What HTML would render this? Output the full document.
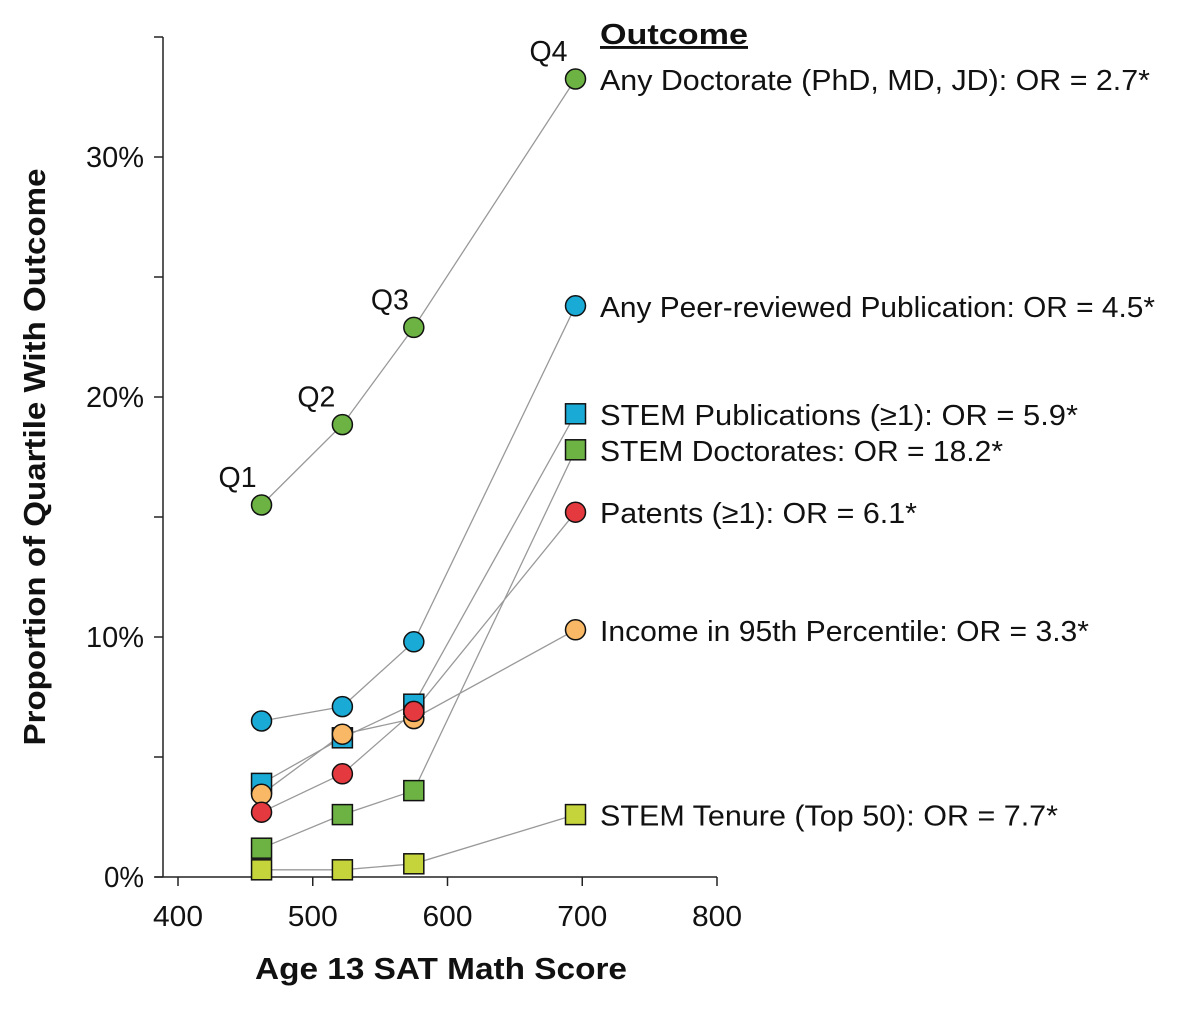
<!DOCTYPE html>
<html><head><meta charset="utf-8"><style>
body{margin:0;background:#fff;}
svg text{font-family:"Liberation Sans",Arial,sans-serif;fill:#111;}
</style></head><body>
<svg width="1178" height="1007" viewBox="0 0 1178 1007" xmlns="http://www.w3.org/2000/svg">
<g id="axes"></g><g id="lines"></g><g id="marks"></g><g id="labels"></g>
</svg>
<script>
const xValues=[462,522,575,695];
const quartileNames=["Q1","Q2","Q3","Q4"];
const xTicks=[400,500,600,700,800];
const yMajor=[0,10,20,30];
const yMinor=[5,15,25,35];
const doctorate=[15.5,18.85,22.9,33.25];
const publication=[6.5,7.1,9.8,23.8];
const stemPubs=[3.9,5.8,7.2,19.3];
const stemDoc=[1.2,2.6,3.6,17.8];
const patents=[2.7,4.3,6.9,15.2];
const income=[3.45,5.95,6.6,10.3];
const tenure=[0.3,0.3,0.55,2.6];
const seriesNames=["stem-doctorates","stem-tenure","stem-publications","income","patents","publication","doctorate"];
const seriesData=[stemDoc,tenure,stemPubs,income,patents,publication,doctorate];
const seriesShape=["sq","sq","sq","c","c","c","c"];
const seriesColor=["#6db344","#c4d43a","#1aaad6","#f8b865","#e3393f","#1aaad6","#6db344"];
const labelText=["STEM Doctorates: OR = 18.2*","STEM Tenure (Top 50): OR = 7.7*","STEM Publications (\u22651): OR = 5.9*","Income in 95th Percentile: OR = 3.3*","Patents (\u22651): OR = 6.1*","Any Peer-reviewed Publication: OR = 4.5*","Any Doctorate  (PhD, MD, JD): OR = 2.7*"];
const labelWidth=[403,458,478,489,317,555,550];
const X=v=>178+(v-400)*539/400;
const Y=v=>877-v*24;
const NS="http://www.w3.org/2000/svg";
function mk(tag,parent,attrs){const e=document.createElementNS(NS,tag);for(const k in attrs)e.setAttribute(k,attrs[k]);document.getElementById(parent).appendChild(e);return e;}
let e=mk('line','axes',{x1:163,y1:Y(35),x2:163,y2:877,stroke:'#222','stroke-width':1.5});


e=mk('line','axes',{x1:155,y1:877,x2:717,y2:877,stroke:'#222','stroke-width':1.5});


yMajor.concat(yMinor).forEach(v=>{const t=mk('line','axes',{x1:154,y1:Y(v),x2:163,y2:Y(v),stroke:'#222','stroke-width':1.5});

});
yMajor.forEach(v=>{const t=mk('text','axes',{x:144,y:Y(v)+10,'text-anchor':'end','font-size':29});t.textContent=v+'%';
t.setAttribute('textLength',v==0?40:58);t.setAttribute('lengthAdjust','spacingAndGlyphs');

});
xTicks.forEach(v=>{const t=mk('line','axes',{x1:X(v),y1:877,x2:X(v),y2:886,stroke:'#222','stroke-width':1.5});


const l=mk('text','axes',{x:X(v),y:926,'text-anchor':'middle','font-size':29,textLength:50,lengthAdjust:'spacingAndGlyphs'});l.textContent=v;

});
e=mk('text','axes',{x:441,y:979,'text-anchor':'middle','font-size':31,'font-weight':'bold',textLength:372,lengthAdjust:'spacingAndGlyphs'});e.textContent='Age 13 SAT Math Score';


e=mk('text','axes',{x:45,y:457,'text-anchor':'middle','font-size':31,'font-weight':'bold',textLength:577,lengthAdjust:'spacingAndGlyphs',transform:'rotate(-90 45 457)'});e.textContent='Proportion of Quartile With Outcome';


seriesData.forEach((d,i)=>{
 const pl=mk('polyline','lines',{points:d.map((v,j)=>X(xValues[j])+','+Y(v)).join(' '),fill:'none',stroke:'#999','stroke-width':1.3});
 
 
 d.forEach((v,j)=>{let m;
  if(seriesShape[i]=='c')m=mk('circle','marks',{cx:X(xValues[j]),cy:Y(v),r:10,fill:seriesColor[i],stroke:'#111','stroke-width':1.5});
  else m=mk('rect','marks',{x:X(xValues[j])-10,y:Y(v)-10,width:20,height:20,fill:seriesColor[i],stroke:'#111','stroke-width':1.5});
  
  });
 const lt=mk('text','labels',{x:600,y:Y(d[3])+11,'font-size':29,textLength:labelWidth[i],lengthAdjust:'spacingAndGlyphs'});lt.textContent=labelText[i];
 
 
});
const qdx=[-24,-26,-24,-27];
doctorate.forEach((v,j)=>{const q=mk('text','labels',{x:X(xValues[j])+qdx[j],y:Y(v)-18,'text-anchor':'middle','font-size':29,textLength:38,lengthAdjust:'spacingAndGlyphs'});q.textContent=quartileNames[j];

});
e=mk('text','labels',{x:600,y:44,'font-size':29,'font-weight':'bold','text-decoration':'underline',textLength:148,lengthAdjust:'spacingAndGlyphs'});e.textContent='Outcome';


</script>
</body></html>
